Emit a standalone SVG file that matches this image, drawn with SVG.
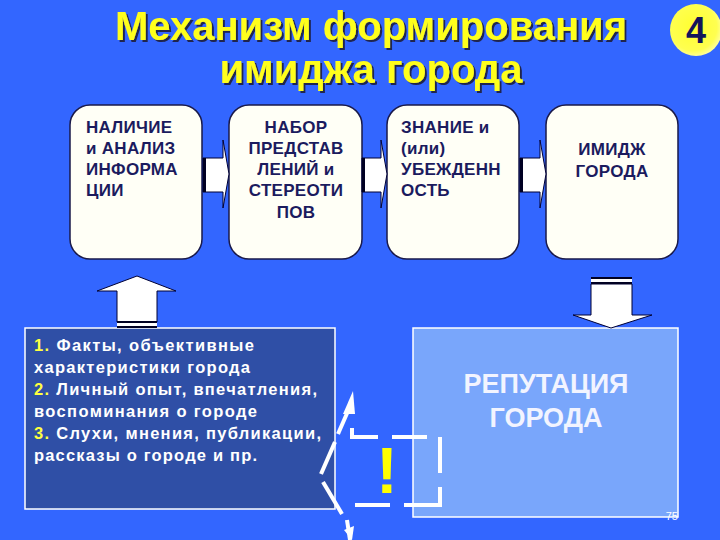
<svg xmlns="http://www.w3.org/2000/svg" width="720" height="540" viewBox="0 0 720 540">
<defs>
<radialGradient id="gBadge" cx="0.45" cy="0.45" r="0.6">
<stop offset="0" stop-color="#ffff30"/>
<stop offset="0.75" stop-color="#ffff50"/>
<stop offset="1" stop-color="#ffffb0"/>
</radialGradient>
<filter id="shadow" x="-5%" y="-20%" width="110%" height="150%">
<feDropShadow dx="2" dy="2" stdDeviation="0.6" flood-color="#1a1a3a" flood-opacity="0.9"/>
</filter>
<style>
.title{font-family:"Liberation Sans",Arial,sans-serif;font-weight:bold;font-size:40px;text-anchor:middle;fill:#ffff1a}
.box{fill:#fffff6;stroke:#1a1a4a;stroke-width:1.5}
.bt{font-family:"Liberation Sans",Arial,sans-serif;font-weight:bold;font-size:17px;fill:#1b1b5e;letter-spacing:0.3px}
.ft{font-family:"Liberation Sans",Arial,sans-serif;font-weight:bold;font-size:16.5px;fill:#ffffff}
.num{fill:#ffff40}
.arr{fill:#ffffff;stroke:#000033;stroke-width:1}
.stripe{fill:#000022}
.dash{stroke:#ffffff;stroke-width:4;fill:none}
</style>
</defs>
<rect x="0" y="0" width="720" height="540" fill="#3366ff"/>

<g id="title" filter="url(#shadow)">
<text class="title" x="371" y="40">Механизм формирования</text>
<text class="title" x="371" y="83">имиджа города</text>
</g>

<g id="badge">
<circle cx="696" cy="30" r="26" fill="url(#gBadge)"/>
<text x="696" y="43" font-family="'Liberation Sans',Arial,sans-serif" font-weight="bold" font-size="36" fill="#14145a" text-anchor="middle">4</text>
</g>

<g id="box1">
<rect class="box" x="70" y="105" width="132" height="154" rx="20"/>
<text class="bt" x="86" y="133">НАЛИЧИЕ</text>
<text class="bt" x="86" y="154">и АНАЛИЗ</text>
<text class="bt" x="86" y="175">ИНФОРМА</text>
<text class="bt" x="86" y="196">ЦИИ</text>
</g>

<g id="box2">
<rect class="box" x="229" y="105" width="133" height="154" rx="20"/>
<g text-anchor="middle">
<text class="bt" x="296" y="133">НАБОР</text>
<text class="bt" x="296" y="154">ПРЕДСТАВ</text>
<text class="bt" x="296" y="175">ЛЕНИЙ и</text>
<text class="bt" x="296" y="196">СТЕРЕОТИ</text>
<text class="bt" x="296" y="218">ПОВ</text>
</g>
</g>

<g id="box3">
<rect class="box" x="387" y="105" width="132" height="154" rx="20"/>
<text class="bt" x="401" y="133">ЗНАНИЕ и</text>
<text class="bt" x="401" y="154">(или)</text>
<text class="bt" x="401" y="175">УБЕЖДЕНН</text>
<text class="bt" x="401" y="196">ОСТЬ</text>
</g>

<g id="box4">
<rect class="box" x="546" y="105" width="132" height="154" rx="20"/>
<g text-anchor="middle">
<text class="bt" x="612" y="155">ИМИДЖ</text>
<text class="bt" x="612" y="177">ГОРОДА</text>
</g>
</g>

<g id="facts">
<rect x="25" y="328" width="310" height="181" fill="#2f4fa6" stroke="#ffffff" stroke-width="1.5"/>
<text class="ft" x="34" y="351" textLength="220" lengthAdjust="spacing"><tspan class="num">1.</tspan> Факты, объективные</text>
<text class="ft" x="34" y="373" textLength="216" lengthAdjust="spacing">характеристики города</text>
<text class="ft" x="34" y="395" textLength="283" lengthAdjust="spacing"><tspan class="num">2.</tspan> Личный опыт, впечатления,</text>
<text class="ft" x="34" y="417" textLength="223" lengthAdjust="spacing">воспоминания о городе</text>
<text class="ft" x="34" y="439" textLength="287" lengthAdjust="spacing"><tspan class="num">3.</tspan> Слухи, мнения, публикации,</text>
<text class="ft" x="34" y="461" textLength="223" lengthAdjust="spacing">рассказы о городе и пр.</text>
</g>

<g id="reputation">
<rect x="413" y="328" width="265" height="189" fill="#79a6fb" stroke="#ffffff" stroke-width="1.5"/>
<g font-family="'Liberation Sans',Arial,sans-serif" font-weight="bold" font-size="27" fill="#f2f4ff" text-anchor="middle">
<text x="546" y="393">РЕПУТАЦИЯ</text>
<text x="546" y="427">ГОРОДА</text>
</g>
<text x="678" y="520" font-family="'Liberation Sans',Arial,sans-serif" font-size="11" fill="#ffffff" text-anchor="end">75</text>
</g>

<g id="connectors">
<polygon class="arr" points="203,158 223,158 223,140 229,174 223,208 223,192 203,192"/>
<rect class="stripe" x="203" y="158" width="3" height="34"/>
<polygon class="arr" points="362,158 381,158 381,140 387,174 381,208 381,192 362,192"/>
<rect class="stripe" x="362" y="158" width="3" height="34"/>
<polygon class="arr" points="520,158 540,158 540,140 546,174 540,208 540,192 520,192"/>
<rect class="stripe" x="520" y="158" width="3" height="34"/>
<polygon class="arr" points="137,276 176,291 157,291 157,322 117,322 117,291 97,291"/>
<rect class="stripe" x="117" y="321" width="40" height="2"/>
<rect x="117" y="323" width="40" height="3" fill="#ffffff"/>
<rect class="stripe" x="117" y="326" width="40" height="2"/>
<polygon class="arr" points="591,284 632,284 632,315 652,315 611,328 573,315 591,315"/>
<rect class="stripe" x="591" y="277" width="41" height="2"/>
<rect x="591" y="279" width="41" height="3" fill="#ffffff"/>
<rect class="stripe" x="591" y="282" width="41" height="2"/>
<line class="dash" x1="321" y1="474" x2="335" y2="442"/>
<line class="dash" x1="338" y1="434" x2="348" y2="411"/>
<polygon points="353,391 343,414 355,414" fill="#ffffff"/>
<line class="dash" x1="323" y1="482" x2="342" y2="514"/>
<line class="dash" x1="347" y1="520" x2="350" y2="540"/>
<polygon points="344,530 352,540 354,526" fill="#ffffff"/>
<line class="dash" x1="352" y1="428" x2="352" y2="439"/>
<line class="dash" x1="350" y1="437" x2="378" y2="437"/>
<line class="dash" x1="392" y1="437" x2="427" y2="437"/>
<line class="dash" x1="440" y1="437" x2="440" y2="473"/>
<line class="dash" x1="440" y1="487" x2="440" y2="507"/>
<line class="dash" x1="355" y1="505" x2="390" y2="505"/>
<line class="dash" x1="404" y1="505" x2="442" y2="505"/>
</g>
<text x="387" y="493" font-family="'Liberation Sans',Arial,sans-serif" font-weight="bold" font-size="64" fill="#ffff00" text-anchor="middle">!</text>
</svg>
